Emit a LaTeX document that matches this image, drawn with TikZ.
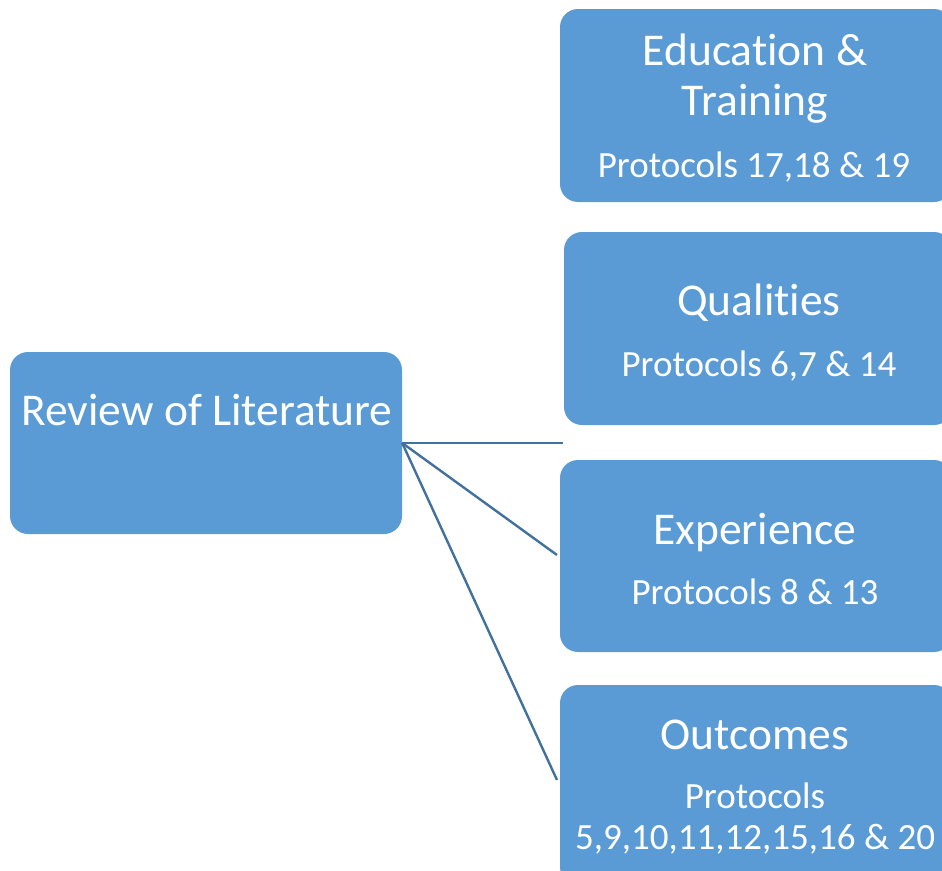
\documentclass[tikz,border=0pt]{standalone}
\usepackage{fontspec}
\setmainfont[Ligatures=CommonOff]{Carlito}
\definecolor{boxblue}{HTML}{5B9BD5}
\definecolor{linkblue}{HTML}{41719C}
\tikzset{
  topic/.style={fill=boxblue, draw=none, rounded corners=18pt, inner sep=0pt},
  label/.style={text=white, anchor=base, inner sep=0pt},
  link/.style={draw=linkblue, line width=2.4pt},
}
\newcommand{\fsz}[1]{\fontsize{#1}{#1}\selectfont}
\begin{document}
\begin{tikzpicture}[x=1pt, y=-1pt]
  \useasboundingbox (0,0) rectangle (942,870);
  \clip (0,0) rectangle (942,870);

  % source box
  \node[topic, minimum width=392pt, minimum height=182pt] (review) at (206,443) {};
  \node[label, font=\fsz{45.5}] (reviewtxt) at (207,425) {Review of Literature};

  % target boxes (right side runs off the page)
  \node[topic, minimum width=392pt, minimum height=193pt] (edu) at (756,105.5) {};
  \node[topic, minimum width=388pt, minimum height=193pt] (qual) at (758,328.5) {};
  \node[topic, minimum width=392pt, minimum height=192pt] (exp) at (756,556) {};
  \node[topic, minimum width=392pt, minimum height=200pt] (out) at (756,785) {};

  % labels
  \node[label, font=\fsz{45.5}] (edu1) at (755,65) {Education \&};
  \node[label, font=\fsz{45.5}] (edu2) at (755,115) {Training};
  \node[label, font=\fsz{37}] (edu3) at (754,177) {Protocols 17,18 \& 19};

  \node[label, font=\fsz{45.5}] (qual1) at (759,315) {Qualities};
  \node[label, font=\fsz{37}] (qual2) at (759,376) {Protocols 6,7 \& 14};

  \node[label, font=\fsz{45.5}] (exp1) at (755,544) {Experience};
  \node[label, font=\fsz{37}] (exp2) at (755,604) {Protocols 8 \& 13};

  \node[label, font=\fsz{45.5}] (out1) at (755,749) {Outcomes};
  \node[label, font=\fsz{37}] (out2) at (755,808) {Protocols};
  \node[label, font=\fsz{37}] (out3) at (755,849) {5,9,10,11,12,15,16 \& 20};

  % connector ends
  \coordinate (endA) at (563,443);
  \coordinate (endB) at (557,555);
  \coordinate (endC) at (557,780);

  \draw[link] (review.east) -- (endA);
  \draw[link] (review.east) -- (endB);
  \draw[link] (review.east) -- (endC);
\end{tikzpicture}
\end{document}
